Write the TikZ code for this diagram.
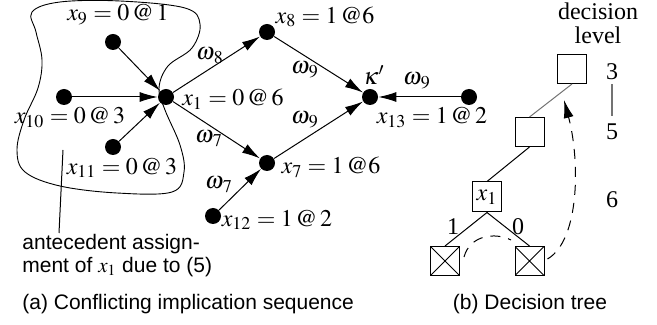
\documentclass[tikz,border=0pt]{standalone}
\usepackage{mathptmx}
\usepackage{fontspec}
\setmainfont{Liberation Serif}
\setsansfont{Liberation Sans}
\usetikzlibrary{positioning,arrows.meta}
\newcommand{\om}[1]{\omega_{\mkern1.5mu #1}}
\tikzset{
  >={Latex[length=9pt,width=5pt]},
  gv/.style={circle,fill=black,inner sep=0pt,minimum size=8pt},
  gedge/.style={->,line width=0.5pt},
  gvlbl/.style={inner sep=1pt},
  wlbl/.style={inner sep=1pt},
  blob/.style={line width=0.45pt},
  dbox/.style={draw,line width=0.5pt,minimum size=14.5pt,inner sep=0pt},
  xbox/.style={dbox,path picture={
    \draw (path picture bounding box.north west)--(path picture bounding box.south east)
          (path picture bounding box.north east)--(path picture bounding box.south west);}},
  tedge/.style={line width=0.5pt},
  backedge/.style={->,dash pattern=on 5pt off 4pt,line width=0.5pt},
  sflbl/.style={font=\sffamily\fontsize{10.5pt}{11.5pt}\selectfont,inner sep=0pt},
}
\begin{document}
\begin{tikzpicture}[x=0.5pt,y=-0.5pt,font=\fontsize{12pt}{14pt}\selectfont]
  \useasboundingbox (0,0) rectangle (657,325);
  % (a) implication graph
  \node[gv] (x9) at (113,42) {};
  \node[gv] (x10) at (64,97) {};
  \node[gv] (x11) at (113,147) {};
  \node[gv] (x1) at (166,97) {};
  \node[gv] (x8) at (267,32) {};
  \node[gv] (x7) at (267,163) {};
  \node[gv] (k) at (370,97) {};
  \node[gv] (x13) at (469,97) {};
  \node[gv] (x12) at (213,216) {};
  % assignments
  \node[gvlbl] (l9) at (118,15) {$x_9 = 0\,@\,1$};
  \node[gvlbl] (l10) at (70,118) {$x_{10} = 0\,@\,3$};
  \node[gvlbl] (l11) at (122,168) {$x_{11} = 0\,@\,3$};
  \node[gvlbl] (l1) at (233,99) {$x_1 = 0\,@\,6$};
  \node[gvlbl] (l8) at (325,17) {$x_8 = 1\,@6$};
  \node[gvlbl] (l7) at (331,167) {$x_7 = 1\,@6$};
  \node[gvlbl] (l12) at (277,220) {$x_{12} = 1\,@\,2$};
  \node[gvlbl] (l13) at (432,118) {$x_{13} = 1\,@\,2$};
  \node[gvlbl] (lk) at (374,75) {$\kappa'$};
  % antecedents
  \node[wlbl] (w8) at (210,56) {$\om{8}$};
  \node[wlbl] (w9a) at (305,70) {$\om{9}$};
  \node[wlbl] (w9b) at (305,120) {$\om{9}$};
  \node[wlbl] (w7a) at (209,139) {$\om{7}$};
  \node[wlbl] (w7b) at (219,185) {$\om{7}$};
  \node[wlbl] (w9c) at (417,81) {$\om{9}$};
  % implications
  \draw[gedge] (x9) -- (x1);
  \draw[gedge] (x10) -- (x1);
  \draw[gedge] (x11) -- (x1);
  \draw[gedge] (x1) -- (x8);
  \draw[gedge] (x1) -- (x7);
  \draw[gedge] (x8) -- (k);
  \draw[gedge] (x7) -- (k);
  \draw[gedge] (x13) -- (k);
  \draw[gedge] (x12) -- (x7);
  % antecedent region
  \draw[blob] plot[smooth cycle,tension=0.6] coordinates {
    (32,12) (60,2) (120,1) (185,8) (200,24) (192,48) (168,66) (159,88)
    (165,110) (180,145) (184,172) (172,192) (117,193) (60,186) (25,172)
    (17,150) (24,120) (38,88) (42,60) (36,32)};
  \coordinate (lead) at (63,150);
  \coordinate (leadend) at (59,233);
  \draw[line width=0.5pt] (lead) -- (leadend);
  \node[sflbl,align=left,anchor=north west] (ante) at (22,234)
    {antecedent assign-\\ment of $x_1$ due to (5)};
  \node[sflbl,anchor=base west] (capa) at (22,309) {(a) Conflicting implication sequence};
  % (b) decision tree
  \node[dbox] (d3) at (572,69) {};
  \node[dbox] (d5) at (529.5,132) {};
  \node[dbox,minimum height=15pt] (dx1) at (487,197) {$x_1$};
  \node[xbox] (c1) at (445,261) {};
  \node[xbox] (c0) at (529.5,261) {};
  \draw[tedge,black!55] (d3.south) -- (d5.north);
  \draw[tedge] (d5.south) -- (dx1.north);
  \draw[tedge] (dx1.south) -- (c1.north);
  \draw[tedge] (dx1.south) -- (c0.north);
  \node[inner sep=0pt] (b1) at (453,227) {1};
  \node[inner sep=0pt] (b0) at (518,227) {0};
  \draw[dash pattern=on 5pt off 4pt,line width=0.5pt] (c1.east) ++(4,-4)
    .. controls (470,235) and (495,232) .. (511,240);
  \coordinate (tip) at (564,100);
  \draw[backedge] (c0.east) ++(3,-2) .. controls (580,240) and (580,160) .. (tip);
  % decision levels
  \node[align=center,inner sep=0pt] (dl) at (598,23) {decision\\[-2pt]level};
  \node[inner sep=0pt] (n3) at (612,72) {3};
  \node[inner sep=0pt] (n5) at (612,132) {5};
  \node[inner sep=0pt] (n6) at (612,200) {6};
  \draw[black!55,line width=1pt] (n3.south) ++(0,4) -- ([yshift=4]n5.north);
  \node[sflbl,anchor=base] (capb) at (530,309) {(b) Decision tree};
\end{tikzpicture}
\end{document}
